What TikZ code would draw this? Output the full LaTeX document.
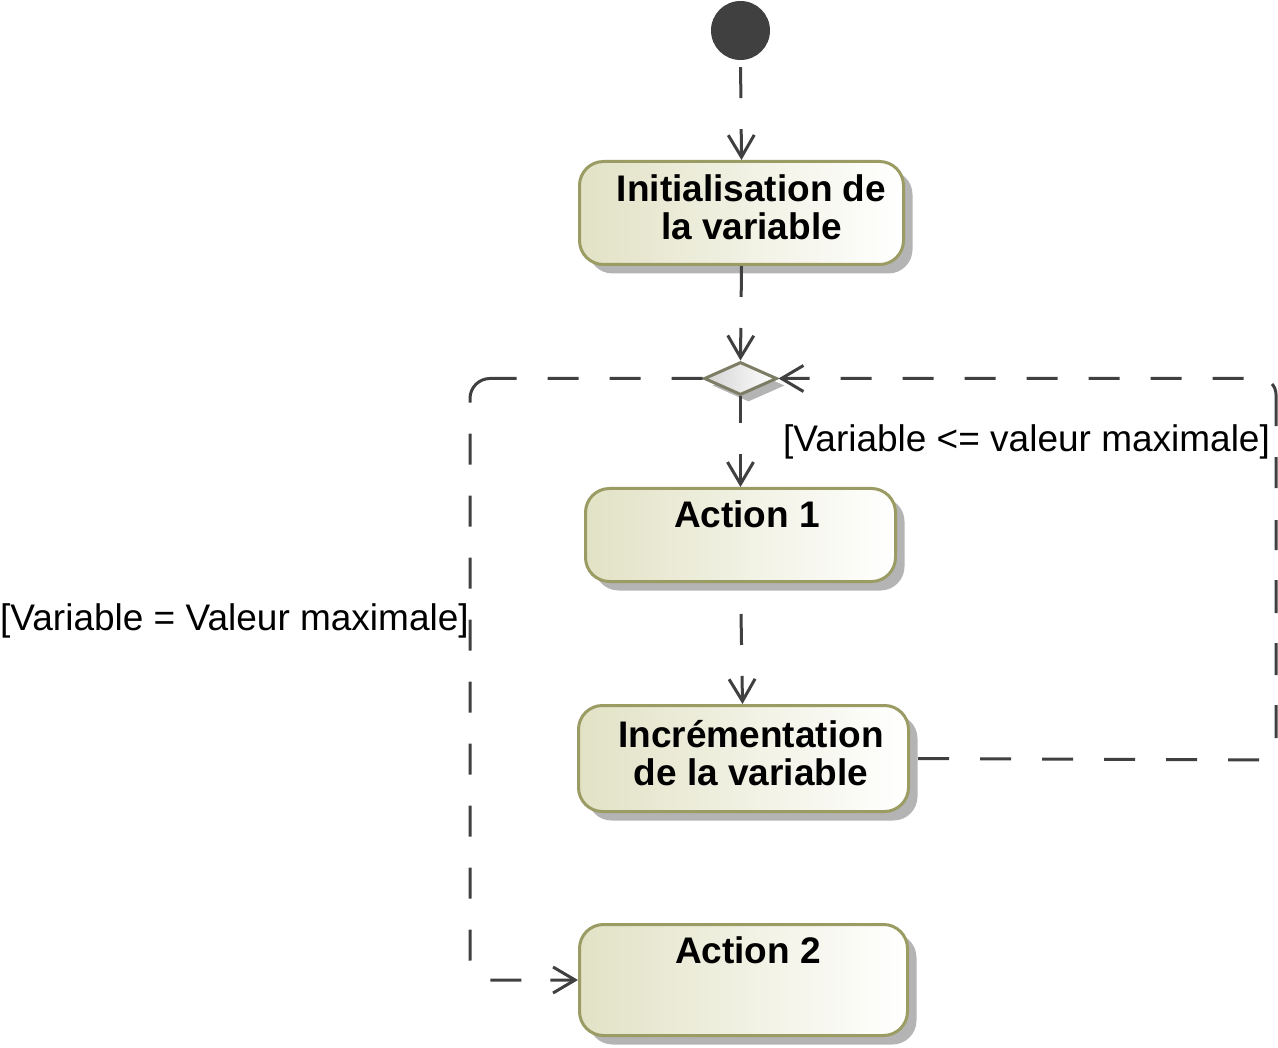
\documentclass[tikz,border=0pt]{standalone}
\usepackage{fontspec}
\setmainfont{Liberation Sans}
\usetikzlibrary{arrows.meta,shapes.geometric,shadows}
\definecolor{lineC}{HTML}{404040}
\definecolor{boxB}{RGB}{155,155,100}
\definecolor{boxL}{RGB}{226,226,198}
\definecolor{shadowC}{RGB}{180,180,180}
\definecolor{diaB}{RGB}{125,125,102}
\definecolor{diaL}{RGB}{212,212,212}
\newcommand\twoline[2]{\vtop{\halign{\hfil##\hfil\cr#1\cr#2\cr}}}
\begin{document}
\begin{tikzpicture}[x=1pt,y=-1pt,
  actbox/.style={draw=boxB, line width=3pt, rounded corners=24pt,
    left color=boxL, right color=white, inner sep=0pt,
    drop shadow={shadow xshift=9pt, shadow yshift=-9pt, fill=shadowC, opacity=1}},
  boxtext/.style={anchor=base, inner sep=0pt, font=\fontsize{37}{38}\selectfont\bfseries},
  guard/.style={anchor=base west, inner sep=0pt, font=\fontsize{37}{38}\selectfont},
  decision/.style={diamond, draw=diaB, line width=3pt, left color=diaL, right color=white,
    minimum width=73pt, minimum height=33pt, inner sep=0pt,
    drop shadow={shadow xshift=8pt, shadow yshift=-7pt, fill=shadowC, opacity=1}},
  initialnode/.style={circle, fill=lineC, minimum size=59pt, inner sep=0pt},
  conn/.style={draw=lineC, line width=3pt, dash pattern=on 31pt off 31pt,
    -{Straight Barb[length=22pt,width=26pt]}}
]
\useasboundingbox (0,0) rectangle (1278,1048);

% nodes
\node[initialnode] (start) at (740.5,30.5) {};
\node[actbox, minimum width=324pt, minimum height=103pt] (init) at (741.5,213) {};
\node[boxtext] (initT) at (751.5,202) {\twoline{Initialisation de}{la variable}};
\node[decision] (dia) at (740.5,378.5) {};
\node[actbox, minimum width=310pt, minimum height=93pt] (act1) at (740.5,535) {};
\node[boxtext] (act1T) at (747,528) {Action 1};
\node[actbox, minimum width=330pt, minimum height=106pt] (incr) at (743.5,758.5) {};
\node[boxtext] (incrT) at (751,747) {\twoline{Incrémentation}{de la variable}};
\node[actbox, minimum width=328pt, minimum height=111pt] (act2) at (743.5,980) {};
\node[boxtext] (act2T) at (748,963) {Action 2};

% corner points
\coordinate (rc1) at (1276,760);
\coordinate (rc2) at (1276,378.5);
\coordinate (lc1) at (470,378.5);
\coordinate (lc2) at (470,980);

% connectors
\draw[conn, dash phase=55pt] (start.south) -- (init.north);
\draw[conn] (init.south) -- (dia.north);
\draw[conn, dash phase=4pt] (dia.south) -- (act1.north);
\draw[conn, dash phase=31pt] (act1.south) -- ([xshift=-1pt]incr.north);
\draw[conn, rounded corners=16pt,
  dash pattern=on 0pt off 8pt on 31pt off 31pt on 31pt off 31pt on 31pt off 31pt
    on 31pt off 31pt on 31pt off 31pt on 31pt off 32pt on 33pt off 30pt on 32pt
    off 30pt on 33pt off 30pt on 30pt off 32pt on 31pt off 31pt on 43pt off 30pt
    on 31pt off 31pt on 31pt off 31pt on 31pt off 31pt on 31pt off 31pt on 31pt
    off 31pt on 31pt off 31pt on 31pt off 31pt on 31pt off 31pt on 31pt off 31pt]
  (incr.east) -- (rc1) -- (rc2) -- (dia.east);
\draw[conn, rounded corners=20pt,
  dash pattern=on 31pt off 31pt on 31pt off 31pt on 31pt off 31pt on 62pt off 31pt
    on 31pt off 31pt on 31pt off 31pt on 31pt off 31pt on 31pt off 31pt on 31pt
    off 31pt on 31pt off 31pt on 31pt off 31pt on 31pt off 31pt on 31pt off 31pt
    on 31pt off 29pt on 30pt off 29pt on 200pt off 10pt]
  (dia.west) -- (lc1) -- (lc2) -- (act2.west);

% guards
\node[guard] (g1) at (783,452) {[Variable <= valeur maximale]};
\node[guard] (g2) at (0,630) {[Variable = Valeur maximale]};
\end{tikzpicture}
\end{document}
